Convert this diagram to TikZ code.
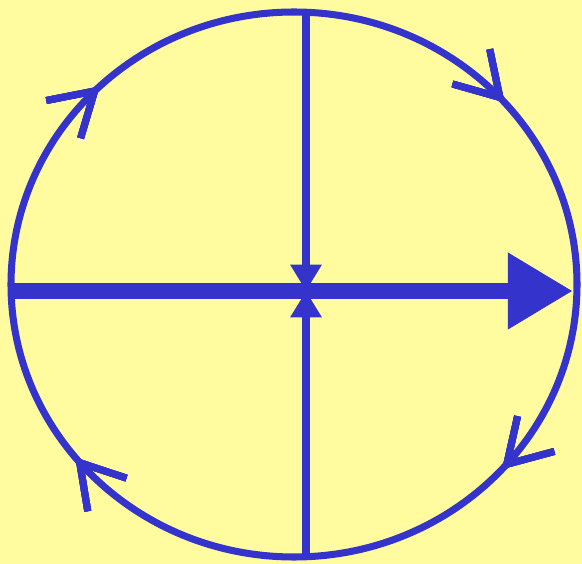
\documentclass[tikz,border=0pt]{standalone}
\usepackage{tikz}
\usetikzlibrary{arrows.meta, decorations.markings}

\definecolor{pagebg}{RGB}{255,251,158}
\definecolor{ink}{RGB}{52,52,204}

\begin{document}
\begin{tikzpicture}[
    x=0.02cm, y=-0.02cm,
    rim/.style={ink, line width=4pt},
    spoke/.style={ink, line width=4.4pt, -{Triangle[length=15pt, width=17pt]}},
    axis/.style={ink, line width=9.6pt, -{Triangle[length=37pt, width=41pt]}},
    flow/.style={decoration={markings,
        mark=at position #1 with {\arrow[ink, line width=4pt]{Straight Barb[length=24pt, width=29pt]}}},
        postaction={decorate}}
]
    \fill[pagebg] (0,0) rectangle (582,564);
    \useasboundingbox (0,0) rectangle (582,564);

    \coordinate (c)    at (294,284.5);
    \coordinate (top)  at (306,12);
    \coordinate (bot)  at (306,557);
    \coordinate (mid)  at (306,291);
    \coordinate (west) at (11,291);
    \coordinate (east) at (573,291);

    \draw[rim, flow=0.117, flow=0.392, flow=0.628, flow=0.885]
        (c) ellipse [x radius=283, y radius=272.5];

    \draw[axis] (west) -- (east);
    \draw[spoke] (top) -- (mid);
    \draw[spoke] (bot) -- (mid);
\end{tikzpicture}
\end{document}
